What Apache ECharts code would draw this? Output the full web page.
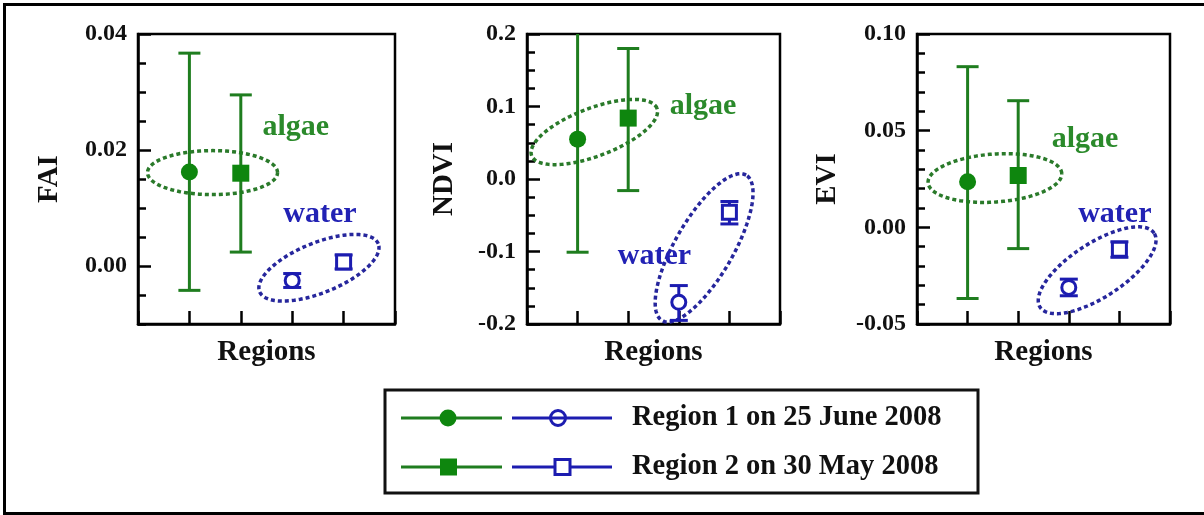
<!DOCTYPE html>
<html>
<head>
<meta charset="utf-8">
<script src="https://cdn.jsdelivr.net/npm/echarts@6/dist/echarts.min.js"></script>
<style>
html,body{margin:0;padding:0;background:#fff;}
#c{width:1204px;height:515px;}
</style>
</head>
<body>
<div id="c"></div>
<script>
// ---------------- DATA ----------------
const categories = ['Region 1 algae', 'Region 2 algae', 'Region 1 water', 'Region 2 water'];
const xPos = [1, 2, 3, 4];

const faiMean = [0.0162, 0.0160, -0.0025, 0.0007];
const faiLow  = [-0.0042, 0.0024, -0.0037, -0.0005];
const faiHigh = [0.0367, 0.0295, -0.0013, 0.0019];

const ndviMean = [0.055, 0.084, -0.170, -0.046];
const ndviLow  = [-0.101, -0.016, -0.195, -0.062];
const ndviHigh = [0.211, 0.180, -0.147, -0.031];

const eviMean = [0.0236, 0.0268, -0.0311, -0.0113];
const eviLow  = [-0.0368, -0.0110, -0.0354, -0.0155];
const eviHigh = [0.0831, 0.0655, -0.0268, -0.0075];

const faiTicks  = [0, 0.02, 0.04];
const ndviTicks = [-0.2, -0.1, 0, 0.1, 0.2];
const eviTicks  = [-0.05, 0, 0.05, 0.10];

const axisNames = ['FAI', 'NDVI', 'EVI'];
const xName = 'Regions';
const groupLabels = ['algae', 'water'];
const legendLabels = ['Region 1 on 25 June 2008', 'Region 2 on 30 May 2008'];

// annotation anchors (data coords) for group labels and ellipses
const labelAnchors = [
  [[3.07, 0.0239], [3.54, 0.0089]],
  [[3.48, 0.1007], [2.52, -0.106]],
  [[3.32, 0.0454], [3.91, 0.0067]]
];
const ellipseCenters = [
  [[1.45, 0.0161], [3.52, -0.0003]],
  [[1.33, 0.0648], [3.50, -0.095]],
  [[1.54, 0.0255], [3.56, -0.0222]]
];

// ---------------- STYLE ----------------
const FONT = '"Liberation Serif", "Times New Roman", serif';
const GREEN = '#1f7d1f';
const GREEN_FILL = '#0e860e';
const BLUE = '#1c1cb0';
const GREEN_TXT = '#2b8a2b';
const BLUE_TXT = '#2222b4';
const ELL_GREEN = '#2a7a2a';
const ELL_BLUE = '#26269c';
// ellipse geometry in pixels: [rx, ry, rotation deg]
const ellipseShapes = [
  [[65, 22, 0], [64, 25, 22]],
  [[67, 24, 20.7], [84, 29, 60]],
  [[67, 24, 4], [68, 27, 33]]
];

const panels = [
  {mean: faiMean, low: faiLow, high: faiHigh, ticks: faiTicks, min: -0.01, max: 0.04, minor: 0.005, dec: 2, left: 138, width: 257, gap: 74},
  {mean: ndviMean, low: ndviLow, high: ndviHigh, ticks: ndviTicks, min: -0.2, max: 0.2, minor: 0.025, dec: 1, left: 527, width: 253, gap: 68},
  {mean: eviMean, low: eviLow, high: eviHigh, ticks: eviTicks, min: -0.05, max: 0.10, minor: 0.01, dec: 2, left: 917, width: 253, gap: 75}
];

function errorBarRender(capW, color) {
  return function (params, api) {
    const x = api.value(0), lo = api.value(1), hi = api.value(2);
    const pLo = api.coord([x, lo]), pHi = api.coord([x, hi]);
    const h = capW / 2;
    const st = {stroke: color, lineWidth: 3};
    return {type: 'group', children: [
      {type: 'line', shape: {x1: pLo[0], y1: pLo[1], x2: pHi[0], y2: pHi[1]}, style: st},
      {type: 'line', shape: {x1: pLo[0] - h, y1: pLo[1], x2: pLo[0] + h, y2: pLo[1]}, style: st},
      {type: 'line', shape: {x1: pHi[0] - h, y1: pHi[1], x2: pHi[0] + h, y2: pHi[1]}, style: st}
    ]};
  };
}

function ellipseRender(shape, color) {
  return function (params, api) {
    const c = api.coord([api.value(0), api.value(1)]);
    const a = shape[0], b = shape[1], th = shape[2] * Math.PI / 180;
    const pts = [];
    for (let i = 0; i <= 120; i++) {
      const t = i / 120 * Math.PI * 2;
      const ex = a * Math.cos(t), ey = b * Math.sin(t);
      pts.push([c[0] + ex * Math.cos(th) - ey * Math.sin(th), c[1] - (ex * Math.sin(th) + ey * Math.cos(th))]);
    }
    return {type: 'polyline', shape: {points: pts},
      style: {stroke: color, fill: null, lineWidth: 3.5, lineDash: [4, 3]}};
  };
}

function textRender(text, color) {
  return function (params, api) {
    const c = api.coord([api.value(0), api.value(1)]);
    return {type: 'text', x: c[0], y: c[1],
      style: {text: text, fill: color, font: 'bold 30px ' + FONT, align: 'center', verticalAlign: 'middle'}};
  };
}

const grids = [], xAxes = [], yAxes = [], series = [];
panels.forEach((p, i) => {
  grids.push({left: p.left, top: 34, width: p.width, height: 290, show: true,
    borderColor: '#000', borderWidth: 2.5, backgroundColor: 'transparent'});
  xAxes.push({type: 'value', gridIndex: i, min: 0, max: 5, interval: 1,
    name: xName, nameLocation: 'middle', nameGap: 14,
    nameTextStyle: {fontFamily: FONT, fontWeight: 'bold', fontSize: 29, color: '#111'},
    axisLine: {onZero: false, lineStyle: {color: '#000', width: 2.5}},
    axisTick: {inside: true, length: 13, lineStyle: {color: '#000', width: 2.5}},
    axisLabel: {show: false}, splitLine: {show: false}});
  // main y-axis: minor ticks + labels
  yAxes.push({type: 'value', gridIndex: i, min: p.min, max: p.max, interval: p.minor,
    name: axisNames[i], nameLocation: 'middle', nameGap: p.gap,
    nameTextStyle: {fontFamily: FONT, fontWeight: 'bold', fontSize: 29, color: '#111'},
    axisLine: {onZero: false, lineStyle: {color: '#000', width: 2.5}},
    axisTick: {inside: true, length: 8, lineStyle: {color: '#000', width: 2.5}},
    axisLabel: {customValues: p.ticks, margin: 11, fontFamily: FONT, fontWeight: 'bold', fontSize: 24, color: '#111',
      formatter: v => Number(v).toFixed(p.dec)},
    splitLine: {show: false}});
  // overlay y-axis for major ticks
  yAxes.push({type: 'value', gridIndex: i, min: p.min, max: p.max, position: 'left',
    axisLine: {show: false, onZero: false},
    axisTick: {inside: true, length: 13, customValues: p.ticks, lineStyle: {color: '#000', width: 2.5}},
    axisLabel: {show: false}, splitLine: {show: false}});
  const yi = i * 2;
  // ellipses and group labels
  [0, 1].forEach(k => {
    series.push({type: 'custom', xAxisIndex: i, yAxisIndex: yi, clip: true, z: 1,
      renderItem: ellipseRender(ellipseShapes[i][k], k === 0 ? ELL_GREEN : ELL_BLUE),
      data: [ellipseCenters[i][k]]});
    series.push({type: 'custom', xAxisIndex: i, yAxisIndex: yi, clip: false, z: 1,
      renderItem: textRender(groupLabels[k], k === 0 ? GREEN_TXT : BLUE_TXT),
      data: [labelAnchors[i][k]]});
  });
  // error bars
  series.push({type: 'custom', xAxisIndex: i, yAxisIndex: yi, clip: true, z: 2,
    renderItem: errorBarRender(22, GREEN),
    data: [0, 1].map(j => [xPos[j], p.low[j], p.high[j]])});
  series.push({type: 'custom', xAxisIndex: i, yAxisIndex: yi, clip: true, z: 2,
    renderItem: errorBarRender(18, BLUE),
    data: [2, 3].map(j => [xPos[j], p.low[j], p.high[j]])});
  // markers
  series.push({type: 'scatter', xAxisIndex: i, yAxisIndex: yi, z: 3, clip: true,
    data: xPos.map((x, j) => {
      const filled = j < 2;
      const circ = j % 2 === 0;
      return {
        name: categories[j],
        value: [x, p.mean[j]],
        symbol: circ ? 'circle' : 'rect',
        symbolSize: filled ? 17 : 14,
        itemStyle: filled ? {color: GREEN_FILL, borderWidth: 0, opacity: 1}
                          : {color: '#fff', borderColor: BLUE, borderWidth: 3, opacity: 1}
      };
    })});
});

// legend drawn as graphic
const L = {x: 385, y: 390, w: 593, h: 103};
const rowY = [418, 467];
const legendGraphic = [
  {type: 'rect', shape: {x: L.x, y: L.y, width: L.w, height: L.h}, style: {fill: '#fff', stroke: '#111', lineWidth: 3}}
];
rowY.forEach((y, r) => {
  legendGraphic.push({type: 'line', shape: {x1: 401, y1: y, x2: 502, y2: y}, style: {stroke: GREEN, lineWidth: 3}});
  legendGraphic.push({type: 'line', shape: {x1: 512, y1: y, x2: 612, y2: y}, style: {stroke: BLUE, lineWidth: 3}});
  if (r === 0) {
    legendGraphic.push({type: 'circle', shape: {cx: 448, cy: y, r: 8.5}, style: {fill: GREEN_FILL}});
    legendGraphic.push({type: 'circle', shape: {cx: 558, cy: y, r: 7.5}, style: {fill: 'none', stroke: BLUE, lineWidth: 3}});
  } else {
    legendGraphic.push({type: 'rect', shape: {x: 440, y: y - 8.5, width: 17, height: 17}, style: {fill: GREEN_FILL}});
    legendGraphic.push({type: 'rect', shape: {x: 555, y: y - 7.5, width: 15, height: 15}, style: {fill: '#fff', stroke: BLUE, lineWidth: 3}});
  }
  legendGraphic.push({type: 'text', x: 632, y: y,
    style: {text: legendLabels[r], font: 'bold 28.5px ' + FONT, fill: '#111', verticalAlign: 'middle', align: 'left'}});
});

const option = {
  backgroundColor: '#fff',
  animation: false,
  grid: grids,
  xAxis: xAxes,
  yAxis: yAxes,
  series: series,
  graphic: [
    {type: 'rect', silent: true, z: -1, shape: {x: 4.5, y: 4.5, width: 1240, height: 509},
      style: {fill: 'none', stroke: '#000', lineWidth: 3}},
    {type: 'group', children: legendGraphic}
  ]
};

const chart = echarts.init(document.getElementById('c'), null, {renderer: 'canvas'});
chart.setOption(option);
</script>
</body>
</html>
